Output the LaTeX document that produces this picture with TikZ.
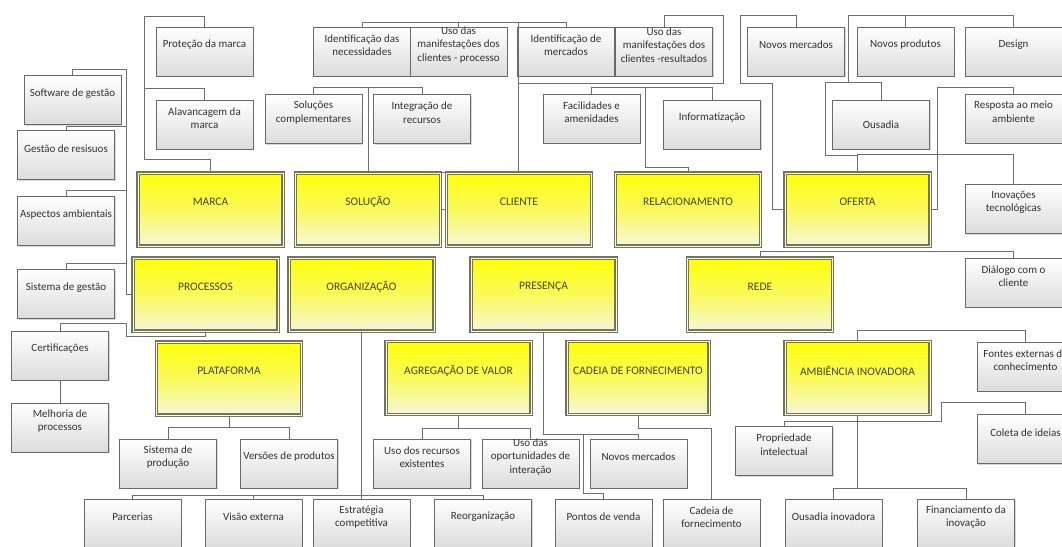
\documentclass[tikz,border=0pt]{standalone}
\usepackage{fontspec}
\setmainfont{Carlito}
\usetikzlibrary{shadows}
\definecolor{boxline}{RGB}{105,105,105}
\definecolor{linkgray}{RGB}{110,110,110}
\definecolor{gtxt}{RGB}{50,50,50}
\definecolor{gbot}{RGB}{220,220,220}
\definecolor{ytxt}{RGB}{70,70,20}
\definecolor{ytop}{RGB}{255,255,10}
\definecolor{ymid}{RGB}{250,250,90}
\definecolor{ybot}{RGB}{246,246,218}
\definecolor{yframe}{RGB}{115,115,95}
\tikzset{
    gbox/.style = {rectangle, draw=boxline, line width=0.9pt, top color=white, bottom color=gbot, minimum width=97pt, minimum height=49pt, inner sep=0pt, drop shadow={shadow xshift=1.2pt, shadow yshift=-1.2pt, opacity=0.3}},
    ybox/.style = {rectangle, draw=yframe, double=white!85!yellow, double distance=0.9pt, line width=1.2pt, top color=ytop, bottom color=ybot, middle color=ymid, minimum width=145pt, minimum height=73pt, inner sep=0pt},
    gtext/.style = {yshift=6.5pt, align=center, font=\fontsize{11}{13.5}\selectfont, text=gtxt},
    ytext/.style = {yshift=7.5pt, align=center, font=\fontsize{11.5}{13}\selectfont, text=ytxt},
    gl/.style = {label={[gtext]center:#1}},
    yl/.style = {label={[ytext]center:#1}},
    link/.style = {draw=linkgray, line width=0.9pt}
}
\begin{document}
\begin{tikzpicture}[x=1pt, y=-1pt]
\useasboundingbox (0,0) rectangle (1062,546);
\fill[white] (0,0) rectangle (1062,546);
\clip (0,0) rectangle (1062,546);
% yellow boxes
\node[ybox, yl=MARCA] at (210.5, 209.5) (marca) {};
\node[ybox, yl=SOLUÇÃO] at (368.0, 209.5) (sol) {};
\node[ybox, yl=CLIENTE] at (519.0, 209.5) (cli) {};
\node[ybox, yl=RELACIONAMENTO] at (688.0, 209.5) (rel) {};
\node[ybox, yl=OFERTA] at (857.5, 209.5) (ofe) {};
\node[ybox, yl=PROCESSOS] at (205.5, 294.5) (proc) {};
\node[ybox, yl=ORGANIZAÇÃO] at (361.5, 294.5) (org) {};
\node[ybox, yl=PRESENÇA] at (543.5, 294.5) (pres) {};
\node[ybox, yl=REDE] at (760.0, 294.5) (rede) {};
\node[ybox, yl=PLATAFORMA] at (229.0, 378.5) (plat) {};
\node[ybox, yl=AGREGAÇÃO DE VALOR] at (458.5, 378.0) (agr) {};
\node[ybox, yl=CADEIA DE FORNECIMENTO, minimum width=142pt] at (638.0, 378.0) (cad) {};
\node[ybox, yl=AMBIÊNCIA INOVADORA] at (857.5, 378.0) (amb) {};
% gray boxes, left column
\node[gbox, gl=Software de gestão] at (72.5, 100.0) (sg) {};
\node[gbox, gl=Gestão de resisuos] at (66.0, 155.0) (gr) {};
\node[gbox, gl=Aspectos ambientais] at (66.0, 221.0) (aa) {};
\node[gbox, gl=Sistema de gestão] at (66.0, 294.0) (sgs) {};
\node[gbox, gl=Certificações] at (60.0, 355.5) (cert) {};
\node[gbox, gl=Melhoria de\\processos] at (60.0, 427.5) (mp) {};
% gray boxes, top
\node[gbox, gl=Proteção da marca] at (204.5, 51.5) (pm) {};
\node[gbox, gl=Alavancagem da\\marca] at (204.5, 124.5) (am) {};
\node[gbox, gl=Identificação das\\necessidades] at (362.0, 51.5) (in) {};
\node[gbox, gl=Uso das\\manifestações dos\\clientes - processo] at (458.5, 51.5) (ump) {};
\node[gbox, gl=Soluções\\complementares] at (313.5, 119.0) (sc) {};
\node[gbox, gl=Integração de\\recursos] at (422.0, 119.0) (ir) {};
\node[gbox, gl=Identificação de\\mercados] at (566.0, 51.5) (im) {};
\node[gbox, gl=Uso das\\manifestações dos\\clientes -resultados] at (664.0, 51.5) (umr) {};
\node[gbox, gl=Facilidades e\\amenidades] at (591.5, 118.5) (fa) {};
\node[gbox, gl=Informatização] at (712.0, 124.5) (inf) {};
\node[gbox, gl=Novos mercados] at (796.0, 51.5) (nm) {};
\node[gbox, gl=Novos produtos] at (905.5, 51.5) (np) {};
\node[gbox, gl=Design] at (1013.5, 51.5) (des) {};
\node[gbox, label={[gtext, yshift=-6.5pt]center:Ousadia}] at (881.0, 124.5) (ous) {};
% gray boxes, right column
\node[gbox, gl=Resposta ao meio\\ambiente] at (1013.5, 118.5) (rma) {};
\node[gbox, gl=Inovações\\tecnológicas] at (1013.5, 209.0) (it) {};
\node[gbox, gl=Diálogo com o\\cliente] at (1013.5, 282.5) (dc) {};
\node[gbox, gl=Fontes externas de\\conhecimento] at (1025.5, 366.5) (fe) {};
\node[gbox, gl=Coleta de ideias] at (1025.5, 439.0) (cl) {};
% gray boxes, lower rows
\node[gbox, gl=Sistema de\\produção] at (168.0, 463.5) (sp) {};
\node[gbox, gl=Versões de produtos] at (289.0, 463.5) (vp) {};
\node[gbox, gl=Uso dos recursos\\existentes] at (422.0, 463.5) (ure) {};
\node[gbox, gl=Uso das\\oportunidades de\\interação] at (530.5, 463.5) (uoi) {};
\node[gbox, gl=Novos mercados] at (638.5, 463.5) (nm2) {};
\node[gbox, gl=Propriedade\\intelectual] at (784.0, 451.0) (pi) {};
\node[gbox, gl=Parcerias] at (132.5, 523.5) (par) {};
\node[gbox, gl=Visão externa] at (253.5, 523.5) (ve) {};
\node[gbox, gl=Estratégia\\competitiva] at (361.5, 523.5) (ec) {};
\node[gbox, gl=Reorganização] at (483.0, 523.5) (reo) {};
\node[gbox, gl=Pontos de venda] at (603.5, 523.5) (pv) {};
\node[gbox, gl=Cadeia de\\fornecimento] at (711.5, 523.5) (cf) {};
\node[gbox, gl=Ousadia inovadora] at (833.5, 523.5) (oi) {};
\node[gbox, gl=Financiamento da\\inovação] at (966.0, 523.5) (fi) {};
% junctions
\coordinate (ptrunk) at (126, 70);
\coordinate (mtop) at (144, 16);
\coordinate (cj) at (518, 172);
\coordinate (rj) at (645, 167);
\coordinate (oj) at (848, 83);
\coordinate (pj) at (583, 434);
% processos
\draw[link] (sg.north) -- ++(0,-6) -| (126,294.5) -- (proc.west);
\draw[link] (gr.north) -- ++(0,-4) -| (ptrunk);
\draw[link] (aa.north) -- ++(0,-6) -| (ptrunk);
\draw[link] (sgs.north) -- ++(0,-6) -| (ptrunk);
\draw[link] (cert.north) -- ++(0,-7) -| (126,336) -| (proc.south);
\draw[link] (cert.south) -- (mp.north);
% marca
\draw[link] (marca.north) -- ++(0,-13) -| (mtop) -| (pm.north);
\draw[link] (am.north) -- ++(0,-11) -| (mtop);
% solucao
\draw[link] (sol.north) -- ++(0,-85) -| (sc.north);
\draw[link] (sol.north) -- ++(0,-85) -| (ir.north);
% cliente
\draw[link] (cli.west) -- ++(-4,0) |- (cj);
\draw[link] (in.north) -- ++(0,-4) -| (cj);
\draw[link] (ump.north) -- ++(0,-4) -| (cj);
\draw[link] (im.north) -- ++(0,-4) -| (cj);
\draw[link] (umr.north) -- ++(0,-11) -| (723,83) -| (cj);
% relacionamento
\draw[link] (fa.north) -- ++(0,-6) -| (rj) -| (rel.north);
\draw[link] (inf.north) -- ++(0,-12) -| (rj);
% oferta
\draw[link] (nm.north) -- ++(0,-11) -| (740,83) -| (772,209.5) -- (ofe.west);
\draw[link] (np.north) -- ++(0,-11) -| (oj);
\draw[link] (des.north) -- ++(0,-11) -| (oj);
\draw[link] (ous.north) -- ++(0,-17) -| (825,155) -| (ofe.north);
\draw[link] (rma.north) -- ++(0,-6) -| (937,209.5) -- (ofe.east);
\draw[link] (it.north) -- ++(0,-30) -| (ofe.north);
% rede
\draw[link] (rede.north) -- ++(0,-6) -| (dc.north);
% ambiencia
\draw[link] (amb.north) -- ++(0,-10) -| (fe.north);
\draw[link] (cl.north) -- ++(0,-12) -| (941,421) -| (pi.north);
\draw[link] (amb.south) -- ++(0,73) -| (oi.north);
\draw[link] (amb.south) -- ++(0,73) -| (fi.north);
% plataforma
\draw[link] (plat.south) -- ++(0,12) -| (sp.north);
\draw[link] (plat.south) -- ++(0,12) -| (vp.north);
% organizacao
\draw[link] (org.south) -- ++(0,164) -| (par.north);
\draw[link] (org.south) -- ++(0,164) -| (ve.north);
\draw[link] (org.south) -- (ec.north);
\draw[link] (org.south) -- ++(0,164) -| (reo.north);
% agregacao
\draw[link] (agr.south) -- ++(0,13) -| (ure.north);
\draw[link] (agr.south) -- ++(0,13) -| (uoi.north);
% presenca
\draw[link] (pres.south) -- ++(0,103) -| (nm2.north);
\draw[link] (pv.north) -- ++(0,-5) -| (pj);
% cadeia
\draw[link] (cad.south) -- ++(0,13) -| (cf.north);
\end{tikzpicture}
\end{document}
